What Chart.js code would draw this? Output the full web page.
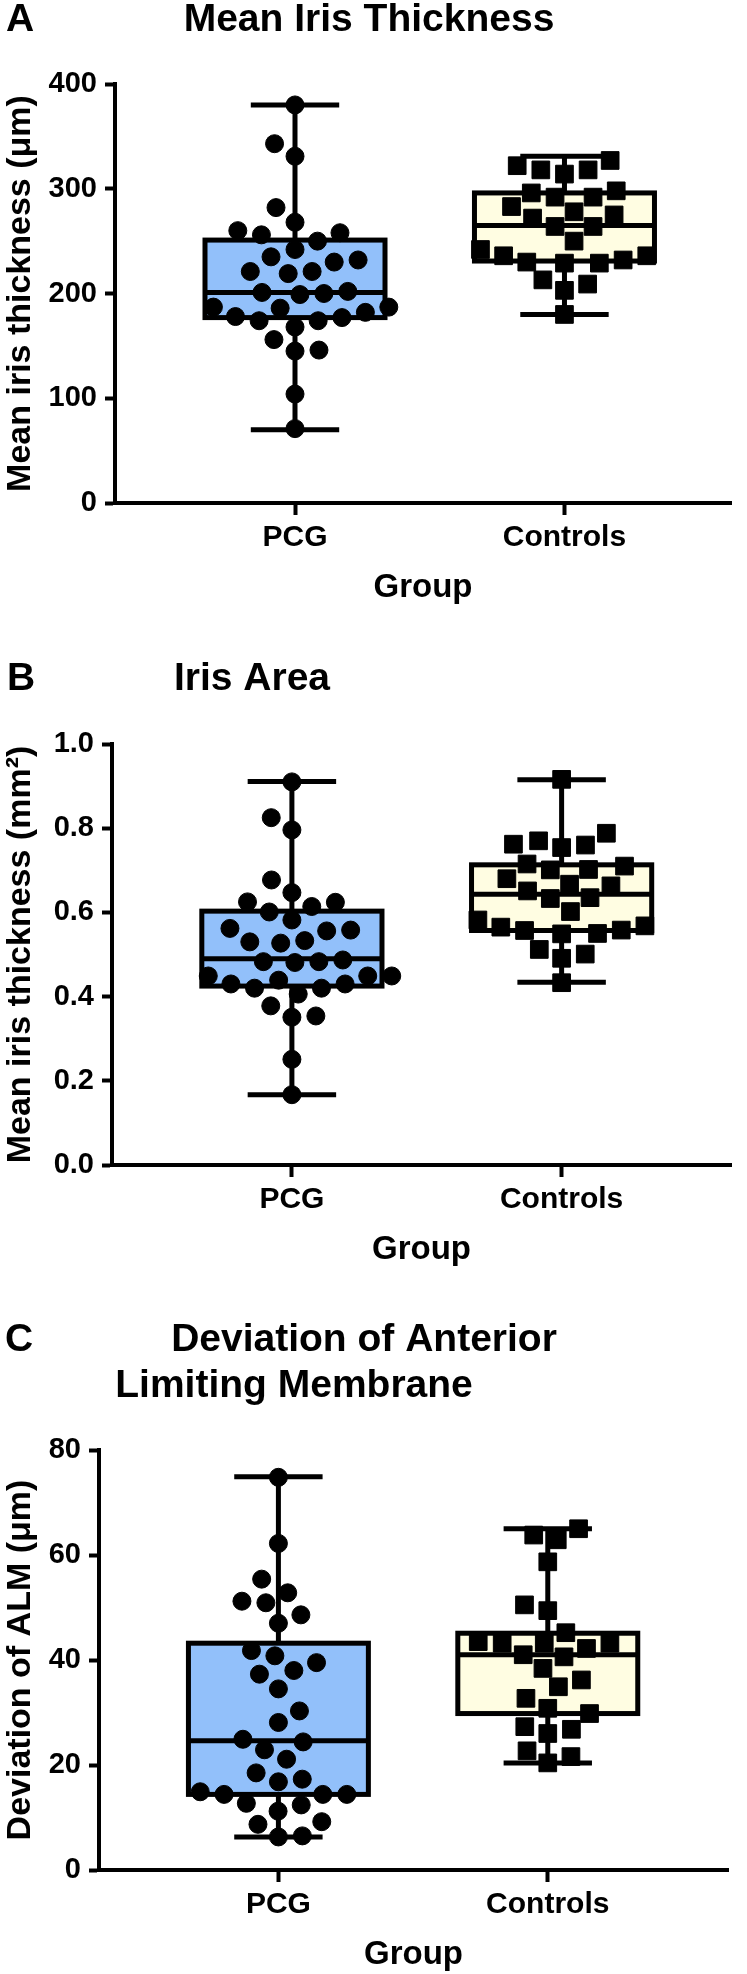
<!DOCTYPE html>
<html>
<head>
<meta charset="utf-8">
<script src="https://cdn.jsdelivr.net/npm/chart.js@4.4.1/dist/chart.umd.min.js"></script>
<style>
  html, body { margin: 0; padding: 0; background: #fff; }
  #wrap { position: relative; width: 747px; height: 1974px; }
  canvas { position: absolute; left: 0; }
</style>
</head>
<body>
<div id="wrap">
  <canvas id="chartA" width="747" height="640" style="top:0px"></canvas>
  <canvas id="chartB" width="747" height="650" style="top:640px"></canvas>
  <canvas id="chartC" width="747" height="684" style="top:1290px"></canvas>
</div>
<script>
// Groupes
const groups = ['PCG', 'Controls'];

// A - épaisseur moyenne de l'iris (µm)
const thicknessPCG = [380, 343, 331, 282, 268, 260, 256, 258, 250, 242, 232, 230, 235, 221, 219, 221,
    201, 199, 200, 202, 187, 186, 178, 174, 174, 177, 182, 187, 168, 156, 145, 146, 104, 71];
const thicknessControls = [327, 314, 318, 318, 322, 296, 292, 292, 298, 283, 275, 278, 272, 264, 264,
    250, 236, 229, 232, 229, 236, 230, 242, 213, 209, 203, 180];
// min, q1, médiane, q3, max
const thicknessBoxPCG = [70, 177, 201, 251, 380];
const thicknessBoxControls = [180, 231, 265, 296, 331];
const thicknessTicks = [0, 100, 200, 300, 400];

// B - surface de l'iris (mm²)
const areaPCG = [0.910, 0.825, 0.796, 0.677, 0.647, 0.614, 0.624, 0.625, 0.601, 0.582, 0.558, 0.556,
    0.562, 0.533, 0.527, 0.530, 0.483, 0.481, 0.483, 0.487, 0.449, 0.449, 0.430, 0.420, 0.420, 0.430,
    0.439, 0.449, 0.406, 0.378, 0.351, 0.354, 0.251, 0.167];
const areaControls = [0.916, 0.788, 0.754, 0.762, 0.760, 0.770, 0.710, 0.701, 0.702, 0.715, 0.680,
    0.663, 0.667, 0.651, 0.635, 0.633, 0.602, 0.582, 0.558, 0.565, 0.549, 0.568, 0.550, 0.557, 0.512,
    0.491, 0.501, 0.433];
const areaBoxPCG = [0.167, 0.425, 0.490, 0.603, 0.911];
const areaBoxControls = [0.434, 0.557, 0.643, 0.713, 0.915];
const areaTicks = [0, 0.2, 0.4, 0.6, 0.8, 1.0];

// C - déviation de la membrane limitante antérieure (µm)
const almPCG = [74.8, 62.2, 55.4, 50.9, 52.8, 51.2, 48.6, 47.0, 40.8, 41.8, 38.0, 37.3, 39.5, 34.5,
    30.3, 28.1, 24.9, 24.4, 22.9, 21.1, 18.5, 17.3, 16.8, 14.9, 14.4, 14.4, 14.4, 12.7, 12.4, 11.2,
    9.2, 8.7, 6.3, 6.5];
const almControls = [65.0, 62.9, 63.8, 58.7, 50.5, 49.4, 45.2, 42.2, 43.2, 40.6, 41.0, 38.4, 36.2,
    34.9, 32.7, 29.8, 30.8, 26.8, 26.0, 27.3, 22.7, 21.6, 20.4, 43.2, 43.2, 43.5];
const almBoxPCG = [6.3, 14.4, 24.6, 43.2, 74.9];
const almBoxControls = [20.4, 29.8, 41.0, 45.1, 65.0];
const almTicks = [0, 20, 40, 60, 80];

// Style
const BOX_HALF = 0.334;
const CAP_HALF = 0.164;
const LINE_W = 5;
const FILLS = ['#92c0fa', '#fffde2'];
const FONT = '"Liberation Sans", Arial, sans-serif';

Chart.defaults.font.family = FONT;
Chart.defaults.font.weight = 'bold';
Chart.defaults.color = '#000';

// Boîtes à moustaches dessinées sous les points
const boxPlugin = {
    id: 'boxes',
    beforeDatasetsDraw(chart, args, opts) {
        const ctx = chart.ctx;
        const x = chart.scales.x, y = chart.scales.y;
        opts.stats.forEach((s, i) => {
            const c = i + 1;
            const [mn, q1, md, q3, mx] = s;
            const xc = x.getPixelForValue(c);
            const xl = x.getPixelForValue(c - BOX_HALF), xr = x.getPixelForValue(c + BOX_HALF);
            const cl = x.getPixelForValue(c - CAP_HALF), cr = x.getPixelForValue(c + CAP_HALF);
            const yMax = y.getPixelForValue(mx), yMin = y.getPixelForValue(mn);
            ctx.save();
            ctx.lineWidth = LINE_W;
            ctx.strokeStyle = '#000';
            ctx.beginPath();
            ctx.moveTo(xc, yMax); ctx.lineTo(xc, yMin);
            ctx.moveTo(cl, yMax); ctx.lineTo(cr, yMax);
            ctx.moveTo(cl, yMin); ctx.lineTo(cr, yMin);
            ctx.stroke();
            const yt = y.getPixelForValue(q3), yb = y.getPixelForValue(q1);
            ctx.fillStyle = FILLS[i];
            ctx.fillRect(xl, yt, xr - xl, yb - yt);
            ctx.strokeRect(xl, yt, xr - xl, yb - yt);
            const ym = y.getPixelForValue(md);
            ctx.beginPath(); ctx.moveTo(xl, ym); ctx.lineTo(xr, ym); ctx.stroke();
            ctx.restore();
        });
    }
};

// Lettre du panneau et titre
const textPlugin = {
    id: 'panelText',
    afterDraw(chart, args, opts) {
        const ctx = chart.ctx;
        ctx.save();
        ctx.fillStyle = '#000';
        ctx.textBaseline = 'alphabetic';
        ctx.font = 'bold 39px ' + FONT;
        opts.items.forEach(t => {
            ctx.textAlign = t.align || 'left';
            ctx.fillText(t.text, t.x, t.y);
        });
        ctx.restore();
    }
};

// Répartition des points en essaim (en pixels)
function swarm(values, center, xs, ys, gap) {
    const order = values.map((v, i) => i).sort((a, b) => values[a] - values[b]);
    const placed = [];
    const out = [];
    let balance = 0;
    order.forEach(i => {
        const py = ys.getPixelForValue(values[i]);
        const spans = [];
        placed.forEach(p => {
            const dy = Math.abs(p.py - py);
            if (dy < gap) {
                const dx = Math.sqrt(gap * gap - dy * dy);
                spans.push([p.px - dx, p.px + dx]);
            }
        });
        const free = c => spans.every(s => c <= s[0] + 0.01 || c >= s[1] - 0.01);
        let cands = [0];
        spans.forEach(s => cands.push(s[0], s[1]));
        cands = cands.filter(free);
        const best = Math.min(...cands.map(Math.abs));
        const pick = cands.filter(c => Math.abs(c) - best < 0.5);
        const px = pick.length > 1 ? (balance > 0 ? Math.min(...pick) : Math.max(...pick)) : pick[0];
        balance += Math.sign(px);
        placed.push({ px, py });
        out[i] = { x: xs.getValueForPixel(xs.getPixelForValue(center) + px), y: values[i] };
    });
    return out;
}

function makePanel(id, p) {
    const canvas = document.getElementById(id);
    const h = canvas.height;
    const chart = new Chart(canvas, {
        type: 'scatter',
        data: {
            datasets: [{
                data: p.pcg.map(v => ({ x: 1, y: v })),
                pointStyle: 'circle',
                pointRadius: 9,
                backgroundColor: '#000',
                borderColor: '#000',
                borderWidth: 1
            }, {
                data: p.ctrl.map(v => ({ x: 2, y: v })),
                pointStyle: 'rect',
                pointRadius: 12.5,
                backgroundColor: '#000',
                borderColor: '#000',
                borderWidth: 1
            }]
        },
        options: {
            responsive: false,
            animation: false,
            events: [],
            layout: { padding: { left: 0, top: p.top, right: 747 - p.right, bottom: 0 } },
            plugins: {
                legend: { display: false },
                tooltip: { enabled: false },
                boxes: { stats: p.boxes },
                panelText: { items: p.texts }
            },
            scales: {
                x: {
                    type: 'linear',
                    min: p.xMin,
                    max: p.xMax,
                    afterBuildTicks: s => { s.ticks = [{ value: 1 }, { value: 2 }]; },
                    afterFit: s => { s.height = h - p.bottom; },
                    ticks: { callback: v => groups[v - 1], font: { size: 30 }, padding: 5, maxRotation: 0, autoSkip: false },
                    grid: { drawOnChartArea: false, tickLength: 12, tickWidth: 4, tickColor: '#000' },
                    border: { width: 4, color: '#000' },
                    title: { display: true, text: 'Group', font: { size: 33 }, padding: { top: 0, bottom: h - p.bottom - 85 - 20 } }
                },
                y: {
                    min: 0,
                    max: p.ticks[p.ticks.length - 1],
                    afterBuildTicks: s => { s.ticks = p.ticks.map(v => ({ value: v })); },
                    afterFit: s => { s.width = p.left; },
                    ticks: { callback: p.fmt, font: { size: 29 }, padding: 8 },
                    grid: { drawOnChartArea: false, tickLength: 10, tickWidth: 4, tickColor: '#000' },
                    border: { width: 4, color: '#000' },
                    title: { display: true, text: p.yTitle, font: { size: 34 }, padding: { top: 0, bottom: 0 } }
                }
            }
        },
        plugins: [boxPlugin, textPlugin]
    });
    const xs = chart.scales.x, ys = chart.scales.y;
    chart.data.datasets[0].data = swarm(p.pcg, 1, xs, ys, 24);
    chart.data.datasets[1].data = swarm(p.ctrl, 2, xs, ys, 24);
    chart.update('none');
    return chart;
}

makePanel('chartA', {
    pcg: thicknessPCG, ctrl: thicknessControls,
    boxes: [thicknessBoxPCG, thicknessBoxControls],
    ticks: thicknessTicks, fmt: v => String(v),
    yTitle: 'Mean iris thickness (μm)',
    left: 115, right: 731, top: 84, bottom: 503, xMin: 0.332, xMax: 2.618,
    texts: [{ text: 'A', x: 6, y: 31 }, { text: 'Mean Iris Thickness', x: 369, y: 31, align: 'center' }]
});

makePanel('chartB', {
    pcg: areaPCG, ctrl: areaControls,
    boxes: [areaBoxPCG, areaBoxControls],
    ticks: areaTicks, fmt: v => v.toFixed(1),
    yTitle: 'Mean iris thickness (mm²)',
    left: 112, right: 731, top: 104, bottom: 525, xMin: 0.333, xMax: 2.628,
    texts: [{ text: 'B', x: 7, y: 50 }, { text: 'Iris Area', x: 252, y: 50, align: 'center' }]
});

makePanel('chartC', {
    pcg: almPCG, ctrl: almControls,
    boxes: [almBoxPCG, almBoxControls],
    ticks: almTicks, fmt: v => String(v),
    yTitle: 'Deviation of ALM (μm)',
    left: 99, right: 728, top: 160, bottom: 580, xMin: 0.334, xMax: 2.669,
    texts: [{ text: 'C', x: 5, y: 61 }, { text: 'Deviation of Anterior', x: 364, y: 61, align: 'center' },
            { text: 'Limiting Membrane', x: 294, y: 107, align: 'center' }]
});
</script>
</body>
</html>
